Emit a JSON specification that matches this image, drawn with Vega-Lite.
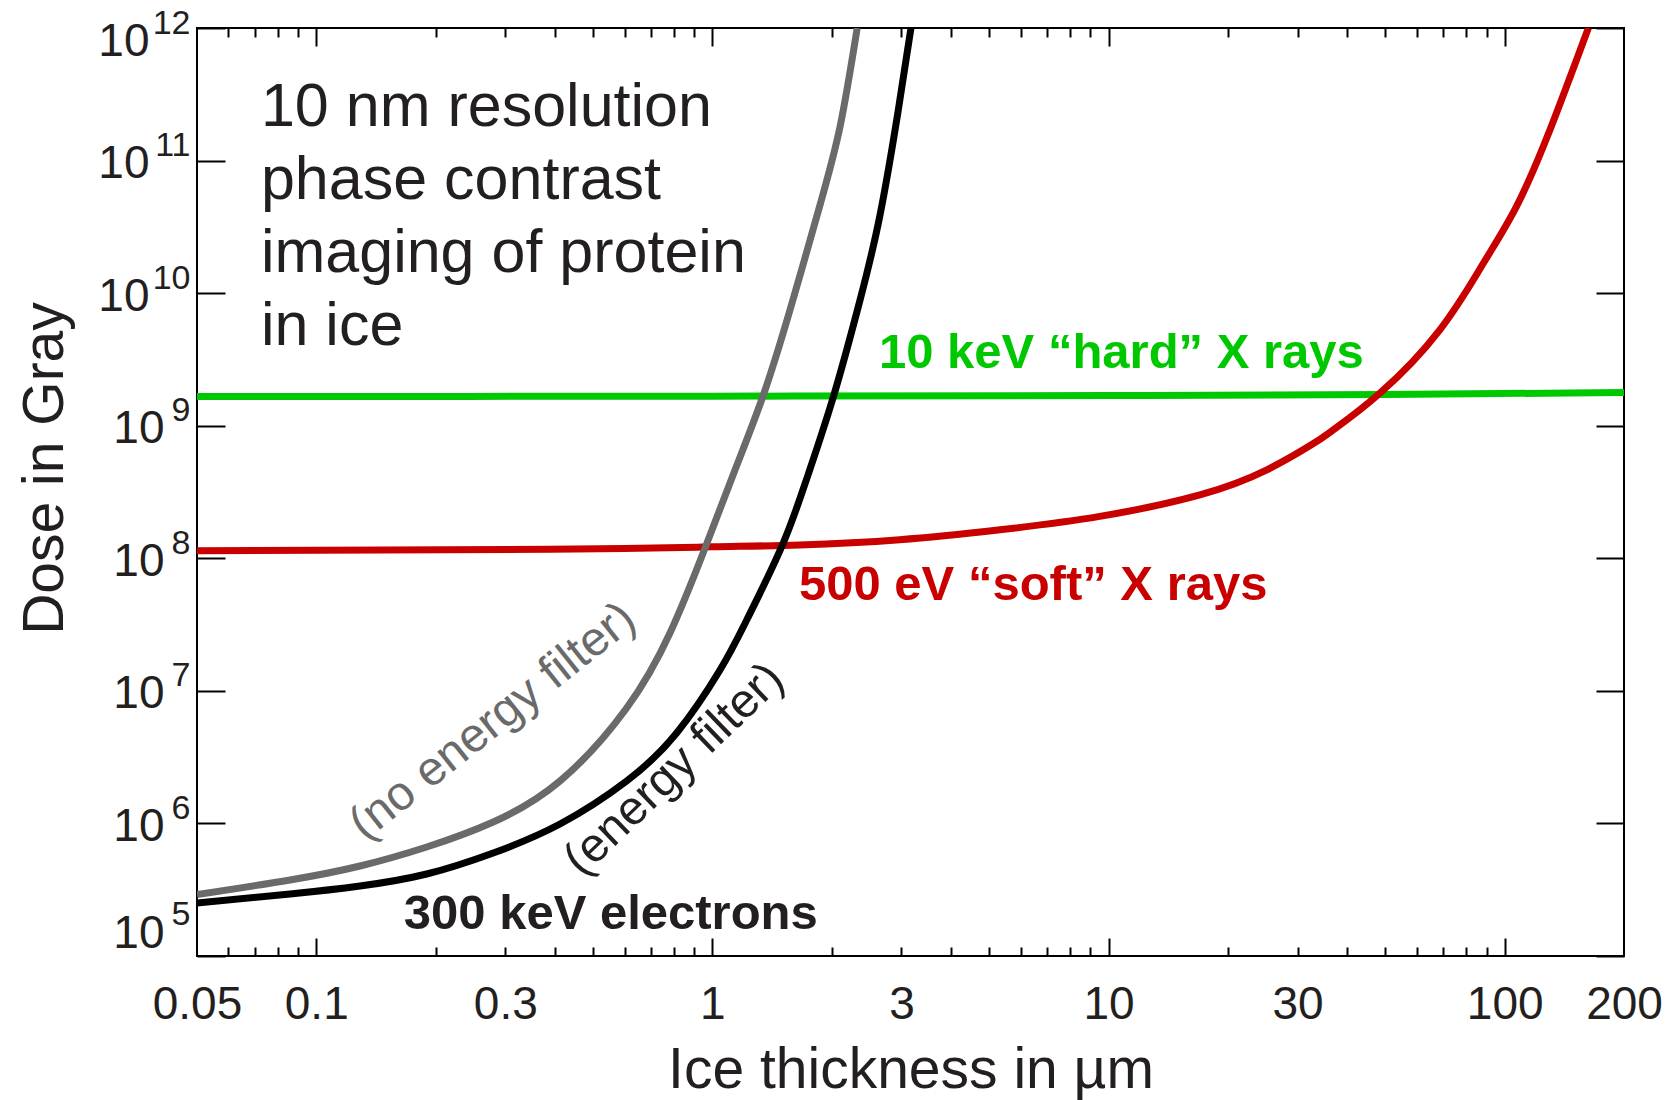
{
  "$schema": "https://vega.github.io/schema/vega-lite/v6.json",
  "width": 1427,
  "height": 928,
  "autosize": {"type": "none"},
  "padding": {"left": 197, "top": 28, "right": 56, "bottom": 144},
  "background": "white",
  "config": {
    "view": {"stroke": "#000000", "strokeWidth": 2},
    "font": "Liberation Sans",
    "axis": {
      "grid": false,
      "domain": false,
      "tickColor": "#000000",
      "tickWidth": 2,
      "labelFont": "Liberation Sans",
      "titleFont": "Liberation Sans",
      "labelColor": "#231f20",
      "titleColor": "#231f20",
      "labelOverlap": false,
      "labelFlush": false,
      "titleFontWeight": "normal"
    }
  },
  "datasets": {
    "green": [
      {"t": 0.05, "d": 1.66e9},
      {"t": 1, "d": 1.67e9},
      {"t": 10, "d": 1.69e9},
      {"t": 50, "d": 1.72e9},
      {"t": 200, "d": 1.78e9}
    ],
    "red": [
      {"t": 0.05, "d": 1.14e8},
      {"t": 0.389, "d": 1.17e8},
      {"t": 1.0, "d": 1.22e8},
      {"t": 1.66, "d": 1.26e8},
      {"t": 2.97, "d": 1.38e8},
      {"t": 5.32, "d": 1.64e8},
      {"t": 9.5, "d": 2.07e8},
      {"t": 17.0, "d": 3.01e8},
      {"t": 25.1, "d": 4.65e8},
      {"t": 32.8, "d": 7.3e8},
      {"t": 36.9, "d": 9.3e8},
      {"t": 48.4, "d": 1.76e9},
      {"t": 68.5, "d": 5.27e9},
      {"t": 88.3, "d": 1.68e10},
      {"t": 107, "d": 4.49e10},
      {"t": 130, "d": 1.7e11},
      {"t": 162.6, "d": 1e12}
    ],
    "gray": [
      {"t": 0.05, "d": 2.905e5},
      {"t": 0.08585, "d": 3.744e5},
      {"t": 0.12893, "d": 4.774e5},
      {"t": 0.19004, "d": 6.641e5},
      {"t": 0.27975, "d": 1.0252e6},
      {"t": 0.41234, "d": 2.089e6},
      {"t": 0.60755, "d": 7.425e6},
      {"t": 0.78133, "d": 2.732e7},
      {"t": 0.95222, "d": 1.1407e8},
      {"t": 1.1403, "d": 4.634e8},
      {"t": 1.3418, "d": 1.675e9},
      {"t": 1.5697, "d": 7.463e9},
      {"t": 1.8689, "d": 4.622e10},
      {"t": 2.104, "d": 1.855e11},
      {"t": 2.32, "d": 1e12}
    ],
    "black": [
      {"t": 0.05, "d": 2.51e5},
      {"t": 0.08585, "d": 2.935e5},
      {"t": 0.12893, "d": 3.373e5},
      {"t": 0.19004, "d": 4.155e5},
      {"t": 0.27975, "d": 5.983e5},
      {"t": 0.41234, "d": 9.9e5},
      {"t": 0.60755, "d": 2.089e6},
      {"t": 0.81235, "d": 4.81e6},
      {"t": 1.045, "d": 1.437e7},
      {"t": 1.2205, "d": 3.423e7},
      {"t": 1.4984, "d": 1.2379e8},
      {"t": 1.743, "d": 4.248e8},
      {"t": 2.0224, "d": 1.675e9},
      {"t": 2.3585, "d": 8.878e9},
      {"t": 2.6489, "d": 3.886e10},
      {"t": 2.9404, "d": 2.325e11},
      {"t": 3.171, "d": 1e12}
    ]
  },
  "resolve": {"axis": {"x": "independent", "y": "independent"}},
  "layer": [
    {
      "data": {"name": "green"},
      "mark": {"type": "line", "color": "#00c800", "strokeWidth": 7, "interpolate": "monotone", "clip": true},
      "encoding": {
        "x": {
          "field": "t", "type": "quantitative",
          "scale": {"type": "log", "domain": [0.05, 200], "nice": false},
          "axis": {
            "orient": "bottom",
            "values": [0.05, 0.1, 0.3, 1, 3, 10, 30, 100, 200],
            "labelExpr": "format(datum.value, '~g')",
            "ticks": false,
            "labelFontSize": 46,
            "labelPadding": 62,
            "labelBaseline": "alphabetic",
            "title": "Ice thickness in µm",
            "titleFontSize": 57,
            "titleY": 131,
            "titleBaseline": "alphabetic"
          }
        },
        "y": {
          "field": "d", "type": "quantitative",
          "scale": {"type": "log", "domain": [1e5, 1e12], "nice": false},
          "axis": {
            "orient": "left",
            "values": [1e5, 1e6, 1e7, 1e8, 1e9, 1e10, 1e11, 1e12],
            "labelExpr": "'10'",
            "ticks": false,
            "labelFontSize": 46,
            "labelAlign": "right",
            "labelBaseline": "alphabetic",
            "labelPadding": {"condition": {"test": "datum.value >= 1e10", "value": 48}, "value": 33},
            "labelOffset": {"condition": [{"test": "datum.value >= 1e12", "value": 27}, {"test": "datum.value <= 1e5", "value": -9}], "value": 17},
            "title": "Dose in Gray",
            "titleFontSize": 57,
            "titleAngle": -90,
            "titleX": -135,
            "titleY": 440,
            "titleBaseline": "alphabetic",
            "titleAlign": "center"
          }
        }
      }
    },
    {
      "data": {"name": "red"},
      "mark": {"type": "line", "color": "#c80000", "strokeWidth": 7, "interpolate": "natural", "clip": true},
      "encoding": {
        "x": {
          "field": "t", "type": "quantitative",
          "scale": {"type": "log", "domain": [0.05, 200], "nice": false},
          "axis": {"orient": "bottom", "values": [0.1, 1, 10, 100], "labels": false, "tickSize": -18, "title": null}
        },
        "y": {
          "field": "d", "type": "quantitative",
          "scale": {"type": "log", "domain": [1e5, 1e12], "nice": false},
          "axis": {
            "orient": "left",
            "values": [1e5, 1e6, 1e7, 1e8, 1e9, 1e10, 1e11, 1e12],
            "labelExpr": "'' + round(log(datum.value) / LN10)",
            "ticks": false,
            "labelFontSize": 34,
            "labelAlign": "right",
            "labelBaseline": "alphabetic",
            "labelPadding": 7,
            "labelOffset": {"condition": [{"test": "datum.value >= 1e12", "value": 5}, {"test": "datum.value <= 1e5", "value": -32}], "value": -5},
            "title": null
          }
        }
      }
    },
    {
      "data": {"name": "gray"},
      "mark": {"type": "line", "color": "#6a6a6a", "strokeWidth": 7, "interpolate": "natural", "clip": true},
      "encoding": {
        "x": {
          "field": "t", "type": "quantitative",
          "scale": {"type": "log", "domain": [0.05, 200], "nice": false},
          "axis": {"orient": "bottom", "values": [0.06, 0.07, 0.08, 0.09, 0.2, 0.3, 0.4, 0.5, 0.6, 0.7, 0.8, 0.9, 2, 3, 4, 5, 6, 7, 8, 9, 20, 30, 40, 50, 60, 70, 80, 90], "labels": false, "tickSize": -9, "title": null}
        },
        "y": {
          "field": "d", "type": "quantitative",
          "scale": {"type": "log", "domain": [1e5, 1e12], "nice": false},
          "axis": {"orient": "left", "values": [1e5, 1e6, 1e7, 1e8, 1e9, 1e10, 1e11, 1e12], "labels": false, "tickSize": -28, "title": null}
        }
      }
    },
    {
      "data": {"name": "black"},
      "mark": {"type": "line", "color": "#000000", "strokeWidth": 7, "interpolate": "natural", "clip": true},
      "encoding": {
        "x": {
          "field": "t", "type": "quantitative",
          "scale": {"type": "log", "domain": [0.05, 200], "nice": false},
          "axis": {"orient": "top", "values": [0.1, 1, 10, 100], "labels": false, "tickSize": -18, "title": null}
        },
        "y": {
          "field": "d", "type": "quantitative",
          "scale": {"type": "log", "domain": [1e5, 1e12], "nice": false},
          "axis": {"orient": "right", "values": [1e5, 1e6, 1e7, 1e8, 1e9, 1e10, 1e11, 1e12], "labels": false, "tickSize": -28, "title": null}
        }
      }
    },
    {
      "data": {"values": [{"t": 0.0725, "d": 1.82e11, "label": "10 nm resolution\nphase contrast\nimaging of protein\nin ice"}]},
      "mark": {"type": "text", "align": "left", "baseline": "alphabetic", "fontSize": 61, "lineHeight": 73, "lineBreak": "\n", "color": "#231f20", "font": "Liberation Sans"},
      "encoding": {
        "x": {
          "field": "t", "type": "quantitative",
          "scale": {"type": "log", "domain": [0.05, 200], "nice": false},
          "axis": {"orient": "top", "values": [0.06, 0.07, 0.08, 0.09, 0.2, 0.3, 0.4, 0.5, 0.6, 0.7, 0.8, 0.9, 2, 3, 4, 5, 6, 7, 8, 9, 20, 30, 40, 50, 60, 70, 80, 90], "labels": false, "tickSize": -9, "title": null}
        },
        "y": {"field": "d", "type": "quantitative", "scale": {"type": "log", "domain": [1e5, 1e12], "nice": false}, "axis": null},
        "text": {"field": "label", "type": "nominal"}
      }
    },
    {
      "data": {"values": [{"t": 2.633, "d": 2.73e9, "label": "10 keV “hard” X rays"}]},
      "mark": {"type": "text", "align": "left", "baseline": "alphabetic", "fontSize": 49, "fontWeight": "bold", "color": "#00c800", "font": "Liberation Sans"},
      "encoding": {
        "x": {"field": "t", "type": "quantitative", "scale": {"type": "log", "domain": [0.05, 200], "nice": false}, "axis": null},
        "y": {"field": "d", "type": "quantitative", "scale": {"type": "log", "domain": [1e5, 1e12], "nice": false}, "axis": null},
        "text": {"field": "label", "type": "nominal"}
      }
    },
    {
      "data": {"values": [{"t": 1.654, "d": 4.85e7, "label": "500 eV “soft” X rays"}]},
      "mark": {"type": "text", "align": "left", "baseline": "alphabetic", "fontSize": 49, "fontWeight": "bold", "color": "#c80000", "font": "Liberation Sans"},
      "encoding": {
        "x": {"field": "t", "type": "quantitative", "scale": {"type": "log", "domain": [0.05, 200], "nice": false}, "axis": null},
        "y": {"field": "d", "type": "quantitative", "scale": {"type": "log", "domain": [1e5, 1e12], "nice": false}, "axis": null},
        "text": {"field": "label", "type": "nominal"}
      }
    },
    {
      "data": {"values": [{"t": 0.1663, "d": 1.61e5, "label": "300 keV electrons"}]},
      "mark": {"type": "text", "align": "left", "baseline": "alphabetic", "fontSize": 49, "fontWeight": "bold", "color": "#231f20", "font": "Liberation Sans"},
      "encoding": {
        "x": {"field": "t", "type": "quantitative", "scale": {"type": "log", "domain": [0.05, 200], "nice": false}, "axis": null},
        "y": {"field": "d", "type": "quantitative", "scale": {"type": "log", "domain": [1e5, 1e12], "nice": false}, "axis": null},
        "text": {"field": "label", "type": "nominal"}
      }
    },
    {
      "data": {"values": [{"t": 0.2793, "d": 5.84e6, "label": "(no energy filter)"}]},
      "mark": {"type": "text", "align": "center", "baseline": "middle", "fontSize": 48, "angle": -38.5, "color": "#6a6a6a", "font": "Liberation Sans"},
      "encoding": {
        "x": {"field": "t", "type": "quantitative", "scale": {"type": "log", "domain": [0.05, 200], "nice": false}, "axis": null},
        "y": {"field": "d", "type": "quantitative", "scale": {"type": "log", "domain": [1e5, 1e12], "nice": false}, "axis": null},
        "text": {"field": "label", "type": "nominal"}
      }
    },
    {
      "data": {"values": [{"t": 0.802, "d": 2.54e6, "label": "(energy filter)"}]},
      "mark": {"type": "text", "align": "center", "baseline": "middle", "fontSize": 48, "angle": -43.8, "color": "#231f20", "font": "Liberation Sans"},
      "encoding": {
        "x": {"field": "t", "type": "quantitative", "scale": {"type": "log", "domain": [0.05, 200], "nice": false}, "axis": null},
        "y": {"field": "d", "type": "quantitative", "scale": {"type": "log", "domain": [1e5, 1e12], "nice": false}, "axis": null},
        "text": {"field": "label", "type": "nominal"}
      }
    }
  ]
}
